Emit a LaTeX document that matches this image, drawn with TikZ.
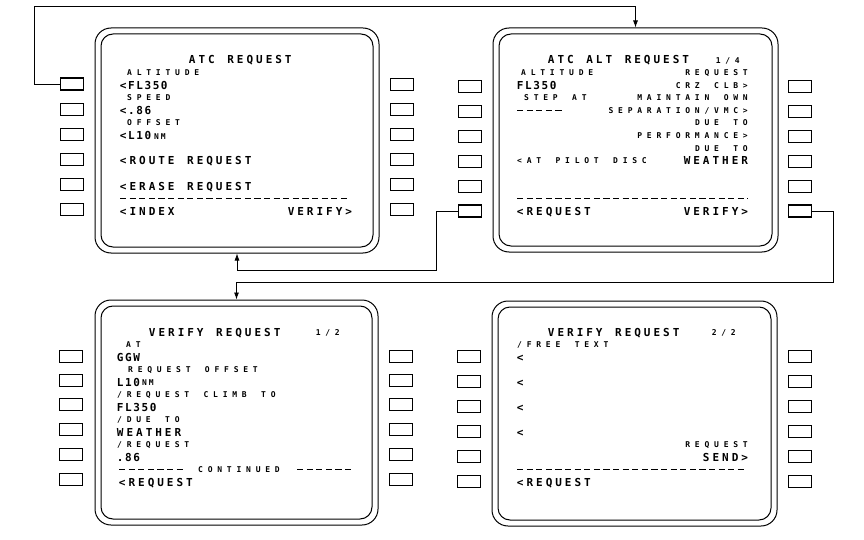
\documentclass[tikz,border=0pt]{standalone}
\usepackage{fontspec}
\setmainfont{DejaVu Sans Mono}
\usetikzlibrary{arrows.meta,calc}
\newdimen\cdw
\newdimen\cdg
\def\cdch#1{\hbox to\cdw{\hss\ifx*#1\else#1\fi\hss}}
\def\cdl#1{\ifx\relax#1\else\kern\cdg\cdch{#1}\expandafter\cdl\fi}
\def\cdrun#1{\cdch{#1}\cdl}
\newcommand\txl[2][3.4pt]{{\fontsize{11}{11}\selectfont\bfseries\cdw=6.2pt\cdg=#1\cdrun#2\relax}}
\newcommand\txs[2][4.8pt]{{\fontsize{8}{8}\selectfont\bfseries\cdw=4.8pt\cdg=#1\cdrun#2\relax}}
\tikzset{
  tl/.style={anchor=base west, inner sep=0pt, yshift=-4pt},
  tle/.style={anchor=base east, inner sep=0pt, yshift=-4pt},
  ts/.style={anchor=base west, inner sep=0pt, yshift=-2.9pt},
  tse/.style={anchor=base east, inner sep=0pt, yshift=-2.9pt},
  btn/.style={draw, line width=0.7pt, minimum width=23pt, minimum height=12pt, inner sep=0pt},
  btnon/.style={btn, line width=1.5pt},
  outerp/.style={draw, line width=1pt, rounded corners=16pt, inner sep=0pt},
  innerp/.style={draw, line width=1pt, rounded corners=12pt, inner sep=0pt},
  conn/.style={line width=0.8pt, -{Latex[length=7pt,width=5pt]}},
  dashrule/.style={line width=1.2pt, dash pattern=on 6.2pt off 3.4pt}
}
\begin{document}
\begin{tikzpicture}[x=1pt,y=-1pt]
\fill[white] (0,0) rectangle (864,540);
\useasboundingbox (0,0) rectangle (864,540);
% panels
\node[outerp, minimum width=284pt, minimum height=225pt] (tl) at (237,140.5) {};
\node[innerp, minimum width=272pt, minimum height=213pt] (tli) at (tl.center) {};
\node[outerp, minimum width=285pt, minimum height=224pt] (tr) at (635.5,140) {};
\node[innerp, minimum width=273pt, minimum height=212pt] (tri) at (tr.center) {};
\node[outerp, minimum width=283pt, minimum height=225pt] (bl) at (236.5,412.5) {};
\node[innerp, minimum width=271pt, minimum height=213pt] (bli) at (bl.center) {};
\node[outerp, minimum width=285pt, minimum height=225pt] (br) at (634.5,413.5) {};
\node[innerp, minimum width=273pt, minimum height=213pt] (bri) at (br.center) {};
% keys
\foreach \i/\y/\s in {1/84/btnon,2/109/btn,3/134/btn,4/159/btn,5/184/btn,6/209/btn}
  {\node[\s] (tlL\i) at (72,\y) {};}
\foreach \i/\y in {1/84,2/109,3/134,4/159,5/184,6/209}
  {\node[btn] (tlR\i) at (401.5,\y) {};}
\foreach \i/\y/\s in {1/86/btn,2/111/btn,3/136/btn,4/161/btn,5/186/btn,6/211/btnon}
  {\node[\s] (trL\i) at (470,\y) {}; \node[\s] (trR\i) at (800,\y) {};}
\foreach \i/\y in {1/356,2/380,3/404,4/429,5/454,6/479}
  {\node[btn] (blL\i) at (71,\y) {}; \node[btn] (blR\i) at (401,\y) {};}
\foreach \i/\y in {1/356,2/381,3/406,4/431,5/456,6/481}
  {\node[btn] (brL\i) at (469,\y) {}; \node[btn] (brR\i) at (800,\y) {};}
% connectors
\draw[conn] (tlL1.west) -- ++(-25,0) |- ($(tr.north)+(0,-21)$) -- (tr.north);
\draw[conn] (trL6.west) -- ++(-21,0) |- ($(tl.south)+(0,17)$) -- (tl.south);
\draw[conn] (trR6.east) -- ++(21,0) |- ($(bl.north)+(0,-17)$) -- (bl.north);
% top-left screen
\node[tl] (a1) at (189,60) {\txl{ATC*REQUEST}};
\node[ts] (a2) at (127,72.6) {\txs{ALTITUDE}};
\node[tl] (a3) at (120,85.2) {\txl[2pt]{<FL350}};
\node[ts] (a4) at (127,97.8) {\txs{SPEED}};
\node[tl] (a5) at (120,110.4) {\txl[2pt]{<.86}};
\node[ts] (a6) at (127,123) {\txs{OFFSET}};
\node[tl] (a7) at (120,135.6) {\txl[2pt]{<L10}};
\node[ts] (a8) at (154,136.5) {\txs[2pt]{NM}};
\node[tl] (a9) at (120,160.8) {\txl{<ROUTE*REQUEST}};
\node[tl] (a10) at (120,186) {\txl{<ERASE*REQUEST}};
\draw[dashrule] (120,198.6) -- (347,198.6);
\node[tl] (a11) at (120,211.2) {\txl{<INDEX}};
\node[tle] (a12) at (352,211.2) {\txl{VERIFY>}};
% top-right screen
\node[tl] (b1) at (548,60) {\txl{ATC*ALT*REQUEST}};
\node[tse] (b2) at (740,61) {\txs{1/4}};
\node[ts] (b3) at (521,72.6) {\txs{ALTITUDE}};
\node[tse] (b4) at (748,72.6) {\txs{REQUEST}};
\node[tl] (b5) at (517,85.2) {\txl[2pt]{FL350}};
\node[tse] (b6) at (748,85.2) {\txs{CRZ*CLB>}};
\node[ts] (b7) at (524,97.8) {\txs{STEP*AT}};
\node[tse] (b8) at (748,97.8) {\txs{MAINTAIN*OWN}};
\draw[dashrule] (517,110.4) -- (561.6,110.4);
\node[tse] (b9) at (748,110.4) {\txs{SEPARATION/VMC>}};
\node[tse] (b10) at (748,123) {\txs{DUE*TO}};
\node[tse] (b11) at (748,135.6) {\txs{PERFORMANCE>}};
\node[tse] (b12) at (748,148.2) {\txs{DUE*TO}};
\node[ts] (b13) at (517,160.8) {\txs{<AT*PILOT*DISC}};
\node[tle] (b14) at (748,160.8) {\txl{WEATHER}};
\draw[dashrule] (517,198.6) -- (748,198.6);
\node[tl] (b15) at (517,211.2) {\txl{<REQUEST}};
\node[tle] (b16) at (748,211.2) {\txl{VERIFY>}};
% bottom-left screen
\node[tl] (c1) at (149,332) {\txl{VERIFY*REQUEST}};
\node[tse] (c2) at (340,333) {\txs{1/2}};
\node[ts] (c3) at (126,344.5) {\txs{AT}};
\node[tl] (c4) at (117,357) {\txl[2pt]{GGW}};
\node[ts] (c5) at (128,369.5) {\txs{REQUEST*OFFSET}};
\node[tl] (c6) at (117,382) {\txl[2pt]{L10}};
\node[ts] (c7) at (142,383) {\txs[2pt]{NM}};
\node[ts] (c8) at (117,394.5) {\txs{/REQUEST*CLIMB*TO}};
\node[tl] (c9) at (117,407) {\txl[2pt]{FL350}};
\node[ts] (c10) at (117,419.5) {\txs{/DUE*TO}};
\node[tl] (c11) at (117,432) {\txl{WEATHER}};
\node[ts] (c12) at (117,444.5) {\txs{/REQUEST}};
\node[tl] (c13) at (117,457) {\txl[2pt]{.86}};
\draw[dashrule] (119,469.5) -- (182.8,469.5);
\node[ts] (c14) at (198,469.5) {\txs{CONTINUED}};
\draw[dashrule] (297,469.5) -- (351.2,469.5);
\node[tl] (c15) at (119,482) {\txl{<REQUEST}};
% bottom-right screen
\node[tl] (d1) at (548,332) {\txl{VERIFY*REQUEST}};
\node[tse] (d2) at (736,333) {\txs{2/2}};
\node[ts] (d3) at (517,344.5) {\txs{/FREE*TEXT}};
\node[tl] (d4) at (517,357) {\txl{<}};
\node[tl] (d5) at (517,382) {\txl{<}};
\node[tl] (d6) at (517,407) {\txl{<}};
\node[tl] (d7) at (517,432) {\txl{<}};
\node[tse] (d8) at (748,444.5) {\txs{REQUEST}};
\node[tle] (d9) at (748,457) {\txl{SEND>}};
\draw[dashrule] (517,469.5) -- (744,469.5);
\node[tl] (d10) at (517,482) {\txl{<REQUEST}};
\end{tikzpicture}
\end{document}
